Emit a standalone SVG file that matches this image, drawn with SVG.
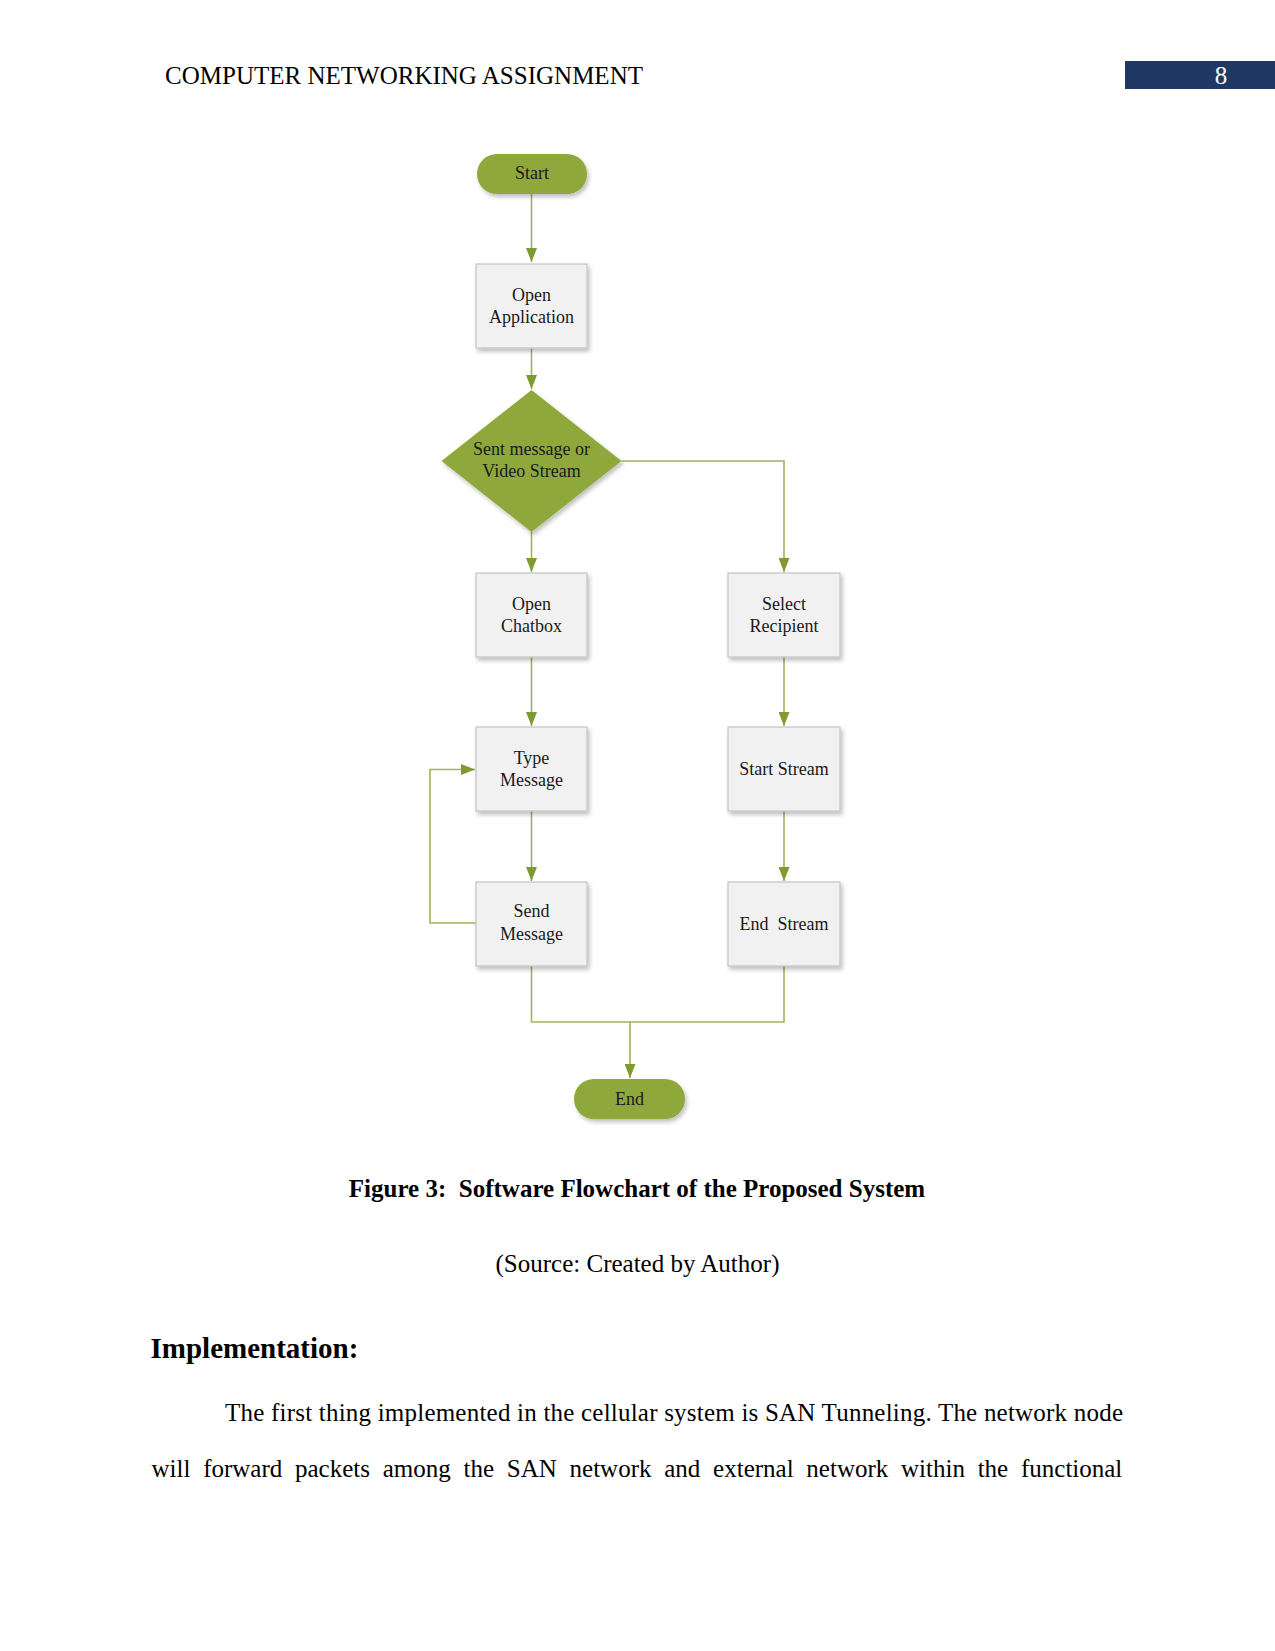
<svg xmlns="http://www.w3.org/2000/svg" width="1275" height="1651" viewBox="0 0 1275 1651">
<defs>
<style>
.hdr{font-family:"Liberation Serif","Times New Roman",serif;font-size:25px;fill:#000}
.node{font-family:"Liberation Serif","Times New Roman",serif;font-size:18px;fill:#1a1a1a;text-anchor:middle}
.box{fill:#f1f1f1;stroke:#c4c4c4;stroke-width:1.2}
.term{fill:#8fa83a}
.conn{fill:none;stroke:#a3b25e;stroke-width:1.6}
.body{font-family:"Liberation Serif","Times New Roman",serif;font-size:25px;fill:#000}
</style>
<filter id="sh" x="-20%" y="-20%" width="140%" height="140%">
<feDropShadow dx="2" dy="3" stdDeviation="2" flood-color="#000" flood-opacity="0.25"/>
</filter>
<marker id="arr" viewBox="0 0 14 11" refX="14" refY="5.5" markerWidth="14" markerHeight="11" markerUnits="userSpaceOnUse" orient="auto">
<path d="M0,0 L14,5.5 L0,11 Z" fill="#7f9a2e"/>
</marker>
</defs>
<rect width="1275" height="1651" fill="#fff"/>

<g id="header">
<text class="hdr" x="165" y="84" textLength="478" lengthAdjust="spacingAndGlyphs">COMPUTER NETWORKING ASSIGNMENT</text>
<rect x="1125" y="61" width="150" height="28" fill="#1f3864"/>
<text class="hdr" x="1221" y="84" style="fill:#fff" text-anchor="middle">8</text>
</g>

<g id="connectors">
<path class="conn" d="M531.5 194 V262" marker-end="url(#arr)"/>
<path class="conn" d="M531.5 348 V389" marker-end="url(#arr)"/>
<path class="conn" d="M531.5 532 V572" marker-end="url(#arr)"/>
<path class="conn" d="M621.5 461 H784 V572" marker-end="url(#arr)"/>
<path class="conn" d="M531.5 657 V726" marker-end="url(#arr)"/>
<path class="conn" d="M531.5 811 V881" marker-end="url(#arr)"/>
<path class="conn" d="M784 657 V726" marker-end="url(#arr)"/>
<path class="conn" d="M784 811 V881" marker-end="url(#arr)"/>
<path class="conn" d="M476 923 H430 V769.5 H475" marker-end="url(#arr)"/>
<path class="conn" d="M531.5 966 V1022 H784 V966"/>
<path class="conn" d="M630 1022 V1078" marker-end="url(#arr)"/>
</g>

<g id="start">
<rect class="term" x="477" y="154" width="110" height="40" rx="20" filter="url(#sh)"/>
<text class="node" x="532" y="179">Start</text>
</g>
<g id="open-application">
<rect class="box" x="476" y="264" width="111" height="84" filter="url(#sh)"/>
<text class="node" x="531.5" y="301">Open</text>
<text class="node" x="531.5" y="323">Application</text>
</g>
<g id="decision">
<polygon class="term" points="531.5,390 621.5,461 531.5,532 441.5,461" filter="url(#sh)"/>
<text class="node" x="531.5" y="455">Sent message or</text>
<text class="node" x="531.5" y="477">Video Stream</text>
</g>
<g id="open-chatbox">
<rect class="box" x="476" y="573" width="111" height="84" filter="url(#sh)"/>
<text class="node" x="531.5" y="610">Open</text>
<text class="node" x="531.5" y="632">Chatbox</text>
</g>
<g id="select-recipient">
<rect class="box" x="728" y="573" width="112" height="84" filter="url(#sh)"/>
<text class="node" x="784" y="610">Select</text>
<text class="node" x="784" y="632">Recipient</text>
</g>
<g id="type-message">
<rect class="box" x="476" y="727" width="111" height="84" filter="url(#sh)"/>
<text class="node" x="531.5" y="764">Type</text>
<text class="node" x="531.5" y="786">Message</text>
</g>
<g id="start-stream">
<rect class="box" x="728" y="727" width="112" height="84" filter="url(#sh)"/>
<text class="node" x="784" y="775">Start Stream</text>
</g>
<g id="send-message">
<rect class="box" x="476" y="882" width="111" height="84" filter="url(#sh)"/>
<text class="node" x="531.5" y="917">Send</text>
<text class="node" x="531.5" y="940">Message</text>
</g>
<g id="end-stream">
<rect class="box" x="728" y="882" width="112" height="84" filter="url(#sh)"/>
<text class="node" x="784" y="930" xml:space="preserve">End  Stream</text>
</g>
<g id="end">
<rect class="term" x="574" y="1079" width="111" height="40" rx="20" filter="url(#sh)"/>
<text class="node" x="629.5" y="1105">End</text>
</g>

<g id="text-body">
<text class="body" x="637" y="1197" text-anchor="middle" font-weight="bold" xml:space="preserve">Figure 3:  Software Flowchart of the Proposed System</text>
<text class="body" x="637.5" y="1272" text-anchor="middle">(Source: Created by Author)</text>
<text class="body" x="150.5" y="1358" font-weight="bold" style="font-size:29px">Implementation:</text>
<text class="body" x="225" y="1421" textLength="898" lengthAdjust="spacing">The first thing implemented in the cellular system is SAN Tunneling. The network node</text>
<text class="body" x="151.5" y="1477" word-spacing="6.5">will forward packets among the SAN network and external network within the functional</text>
</g>
</svg>
